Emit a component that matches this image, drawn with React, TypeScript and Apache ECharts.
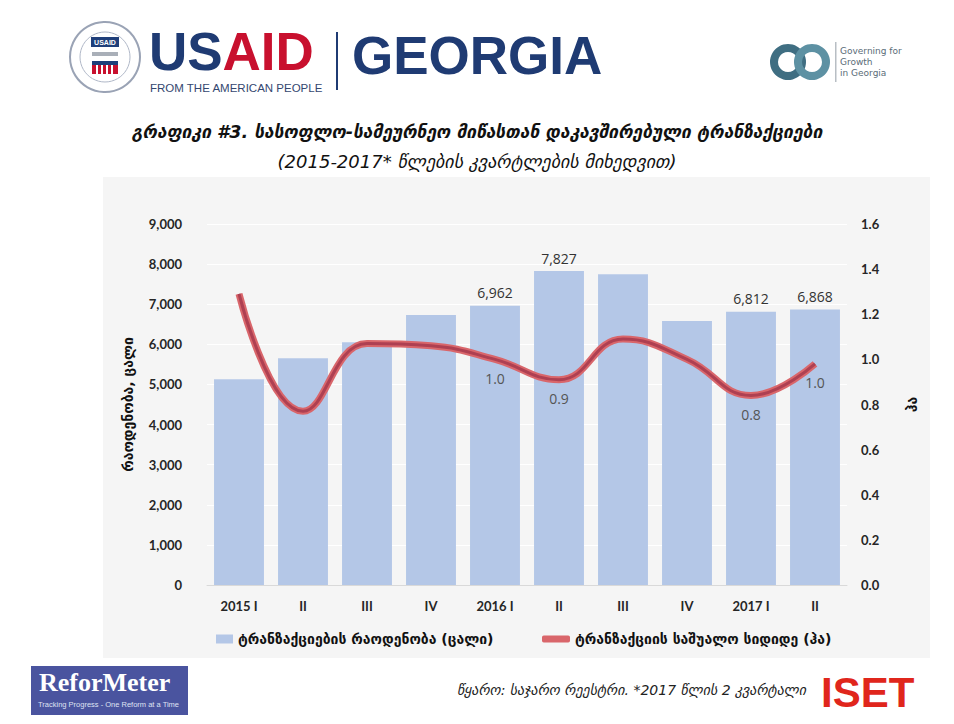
import React, { useEffect, useRef } from "react";
import * as echarts from "echarts";

const categories = ["2015 I", "II", "III", "IV", "2016 I", "II", "III", "IV", "2017 I", "II"];
const transactionCounts = [5130, 5650, 6050, 6730, 6962, 7827, 7750, 6580, 6812, 6868];
const averageSizes = [1.29, 0.77, 1.07, 1.06, 1.0, 0.91, 1.09, 1.0, 0.84, 0.98];
const countLabelShown = [false, false, false, false, true, true, false, false, true, true];
const sizeLabelShown = [false, false, false, false, true, true, false, false, true, true];

const barName = "ტრანზაქციების რაოდენობა (ცალი)";
const lineName = "ტრანზაქციის საშუალო სიდიდე (ჰა)";
const titleMain = "სასოფლო-სამეურნეო მიწასთან დაკავშირებული ტრანზაქციები";
const titlePrefix = "გრაფიკი #3. ";
const subTitle = "(2015-2017* წლების კვარტლების მიხედვით)";
const leftAxisName = "რაოდენობა, ცალი";
const rightAxisName = "ჰა";
const sourceText = "წყარო: საჯარო რეესტრი. *2017 წლის 2 კვარტალი";

const GEO = "'DejaVu Sans', 'Noto Sans', sans-serif";
const NUM = "Lato, 'Open Sans', sans-serif";

export default function App() {
  const ref = useRef<HTMLDivElement>(null);
  useEffect(() => {
    if (!ref.current) return;
    const chart = echarts.init(ref.current, undefined, { renderer: "svg" });
    const fmtThousands = (v: number) => String(v).replace(/\B(?=(\d{3})+(?!\d))/g, ",");
    const option: any = {
      animation: false,
      backgroundColor: "#ffffff",
      grid: { left: 207, right: 107, top: 224, bottom: 139, containLabel: false },
      title: [
        {
          text: "{a|" + titlePrefix + "}{b|" + titleMain + "}",
          left: "center",
          top: 118,
          textStyle: {
            rich: {
              a: { fontFamily: GEO, fontStyle: "italic", fontSize: 17.5, color: "#111" },
              b: { fontFamily: GEO, fontStyle: "italic", fontWeight: "bold", fontSize: 17.5, color: "#111" },
            },
          },
        },
        {
          text: subTitle,
          left: "center",
          top: 147,
          textStyle: { fontFamily: GEO, fontStyle: "italic", fontWeight: "normal", fontSize: 18, color: "#111" },
        },
      ],
      legend: [
        {
          data: [{ name: barName, icon: "rect" }],
          left: 211,
          top: 627,
          itemWidth: 17,
          itemHeight: 9,
          itemGap: 6,
          textStyle: { fontFamily: GEO, fontSize: 14, fontWeight: "bold", color: "#111" },
        },
        {
          data: [{ name: lineName, icon: "roundRect" }],
          left: 537,
          top: 627,
          itemWidth: 28,
          itemHeight: 7,
          textStyle: { fontFamily: GEO, fontSize: 14, fontWeight: "bold", color: "#111" },
        },
      ],
      xAxis: {
        type: "category",
        data: categories,
        axisLine: { show: true, lineStyle: { color: "#d9d9d9", width: 1 } },
        axisTick: { show: false },
        axisLabel: { fontFamily: NUM, fontWeight: "bold", fontSize: 13, color: "#262626", margin: 14 },
      },
      yAxis: [
        {
          type: "value",
          min: 0,
          max: 9000,
          interval: 1000,
          name: leftAxisName,
          nameLocation: "middle",
          nameGap: 72,
          nameRotate: 90,
          nameTextStyle: { fontFamily: GEO, fontWeight: "bold", fontSize: 14, color: "#111" },
          axisLine: { show: false },
          axisTick: { show: false },
          axisLabel: {
            fontFamily: NUM,
            fontWeight: "bold",
            fontSize: 13,
            color: "#262626",
            margin: 25,
            formatter: (v: number) => fmtThousands(v),
          },
          splitLine: { show: true, lineStyle: { color: "#ffffff", width: 1 } },
        },
        {
          type: "value",
          min: 0,
          max: 1.6,
          interval: 0.2,
          name: rightAxisName,
          nameLocation: "middle",
          nameGap: 58,
          nameRotate: 90,
          nameTextStyle: { fontFamily: GEO, fontWeight: "bold", fontSize: 14, color: "#111" },
          axisLine: { show: false },
          axisTick: { show: false },
          axisLabel: {
            fontFamily: NUM,
            fontWeight: "bold",
            fontSize: 13,
            color: "#262626",
            margin: 14,
            formatter: (v: number) => v.toFixed(1),
          },
          splitLine: { show: false },
        },
      ],
      series: [
        {
          name: barName,
          type: "bar",
          yAxisIndex: 0,
          barCategoryGap: "22%",
          itemStyle: { color: "#b4c7e7" },
          data: transactionCounts.map((v, i) => ({
            value: v,
            label: {
              show: countLabelShown[i],
              position: "top",
              distance: 6,
              fontFamily: "Open Sans, sans-serif",
              fontSize: 14,
              color: "#333",
              formatter: (p: any) => fmtThousands(p.value),
            },
          })),
          z: 2,
        },
        {
          name: lineName,
          type: "line",
          yAxisIndex: 1,
          smooth: 0.45,
          symbol: "circle",
          symbolSize: 0.1,
          showSymbol: true,
          lineStyle: { color: "#d9666b", width: 7 },
          itemStyle: { color: "#d9666b" },
          data: averageSizes.map((v, i) => ({
            value: v,
            label: {
              show: sizeLabelShown[i],
              position: "bottom",
              distance: 12,
              fontFamily: "Open Sans, sans-serif",
              fontSize: 14,
              color: "#555",
              formatter: (p: any) => Number(p.value).toFixed(1),
            },
          })),
          z: 3,
        },
        {
          name: lineName + " ",
          type: "line",
          yAxisIndex: 1,
          smooth: 0.45,
          symbol: "none",
          silent: true,
          lineStyle: { color: "#a63a4d", width: 3, opacity: 0.85 },
          data: averageSizes,
          z: 4,
        },
      ],
      graphic: [
        {
          type: "rect",
          z: -10,
          shape: { x: 103, y: 177, width: 827, height: 481 },
          style: { fill: "#f5f5f5" },
        },
        // USAID seal
        { type: "circle", shape: { cx: 105, cy: 57, r: 35 }, style: { fill: "#ffffff", stroke: "#9aa3b5", lineWidth: 2 } },
        { type: "circle", shape: { cx: 105, cy: 57, r: 25 }, style: { fill: "#ffffff", stroke: "#b0b8c8", lineWidth: 1 } },
        { type: "rect", shape: { x: 91, y: 37, width: 28, height: 10 }, style: { fill: "#1f3f7a" } },
        {
          type: "text",
          x: 105,
          y: 42,
          style: { text: "USAID", fill: "#fff", font: "bold 7px 'Liberation Sans'", align: "center", verticalAlign: "middle" },
        },
        { type: "rect", shape: { x: 92, y: 52, width: 26, height: 4 }, style: { fill: "#a9afb8" } },
        { type: "rect", shape: { x: 92, y: 61, width: 26, height: 4 }, style: { fill: "#1f3f7a" } },
        { type: "rect", shape: { x: 92, y: 65, width: 26, height: 9 }, style: { fill: "#c8102e" } },
        { type: "rect", shape: { x: 96, y: 65, width: 2, height: 9 }, style: { fill: "#fff" } },
        { type: "rect", shape: { x: 101, y: 65, width: 2, height: 9 }, style: { fill: "#fff" } },
        { type: "rect", shape: { x: 106, y: 65, width: 2, height: 9 }, style: { fill: "#fff" } },
        { type: "rect", shape: { x: 111, y: 65, width: 2, height: 9 }, style: { fill: "#fff" } },
        {
          type: "text",
          x: 149,
          y: 51,
          style: { text: "US", font: "bold 53px 'Liberation Sans'", fill: "#1f3b73", verticalAlign: "middle" },
        },
        {
          type: "text",
          x: 222.5,
          y: 51,
          style: { text: "AID", font: "bold 53px 'Liberation Sans'", fill: "#c8102e", verticalAlign: "middle" },
        },
        {
          type: "text",
          x: 150,
          y: 88,
          style: { text: "FROM THE AMERICAN PEOPLE", font: "11.5px 'Liberation Sans'", fill: "#34476f", verticalAlign: "middle" },
        },
        { type: "rect", shape: { x: 336, y: 32, width: 2, height: 58 }, style: { fill: "#1f3b73" } },
        {
          type: "text",
          x: 352,
          y: 55,
          style: { text: "GEORGIA", font: "bold 53px 'Liberation Sans'", fill: "#1f3b73", verticalAlign: "middle" },
        },
        // Governing for Growth logo
        { type: "ring", shape: { cx: 788, cy: 62, r: 18, r0: 10 }, style: { fill: "#3f6e82" } },
        { type: "ring", shape: { cx: 812, cy: 62, r: 18, r0: 10 }, style: { fill: "#5d91a3" } },
        { type: "rect", shape: { x: 835, y: 42, width: 1.5, height: 40 }, style: { fill: "#b8bec4" } },
        {
          type: "text",
          x: 840,
          y: 45,
          style: { text: "Governing for\nGrowth\nin Georgia", font: "9px 'DejaVu Sans'", fill: "#5a6c78", lineHeight: 11 },
        },
        // ReforMeter
        { type: "rect", shape: { x: 31, y: 666, width: 157, height: 49 }, style: { fill: "#4a549f" } },
        {
          type: "text",
          x: 39,
          y: 669,
          style: { text: "ReforMeter", font: "bold 26px 'Liberation Serif'", fill: "#ffffff" },
        },
        {
          type: "text",
          x: 38,
          y: 700,
          style: { text: "Tracking Progress - One Reform at a Time", font: "7.5px 'Liberation Sans'", fill: "#dfe2f2" },
        },
        // Source
        {
          type: "text",
          x: 806,
          y: 690,
          style: {
            text: sourceText,
            font: "italic 14px 'DejaVu Sans'",
            fill: "#222",
            align: "right",
            verticalAlign: "middle",
          },
        },
        // ISET
        {
          type: "text",
          x: 821,
          y: 671,
          style: { text: "ISET", font: "bold 42px 'Liberation Sans'", fill: "#e0261c" },
        },
      ],
    };
    chart.setOption(option);
    return () => chart.dispose();
  }, []);
  return <div ref={ref} style={{ position: "fixed", left: 0, top: 0, width: 954, height: 724 }} />;
}
